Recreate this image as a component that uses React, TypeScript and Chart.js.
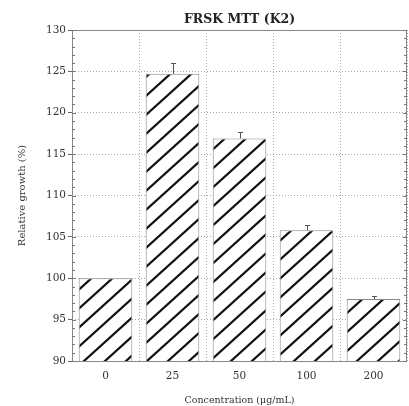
import { useEffect, useRef } from 'react';
import { Chart, registerables } from 'chart.js';

Chart.register(...registerables);

const categories = ['0', '25', '50', '100', '200'];
const values = [100, 124.7, 116.9, 105.8, 97.5];
const errors = [0, 1.3, 0.8, 0.6, 0.3];
const titleText = 'FRSK MTT (K2)';
const xTitle = 'Concentration (\u03bcg/mL)';
const yTitle = 'Relative growth (%)';
const yMin = 90;
const yMax = 130;
const yStep = 5;
const yMinorStep = 1;

const FONT = '"DejaVu Serif", serif';

function makeHatch(ctx: CanvasRenderingContext2D): CanvasPattern | string {
  const w = 21;
  const h = 19;
  const c = document.createElement('canvas');
  c.width = w;
  c.height = h;
  const p = c.getContext('2d');
  if (!p) return '#fff';
  p.fillStyle = '#ffffff';
  p.fillRect(0, 0, w, h);
  p.strokeStyle = '#111';
  p.lineWidth = 2.2;
  p.lineCap = 'square';
  for (let k = -1; k <= 1; k++) {
    p.beginPath();
    p.moveTo(-w, h + h + k * h);
    p.lineTo(2 * w, h - 2 * h + k * h);
    p.stroke();
  }
  return ctx.createPattern(c, 'repeat') || '#fff';
}

const decorPlugin = {
  id: 'decor',
  afterDatasetsDraw(chart: any) {
    const { ctx, chartArea, scales } = chart;
    const y = scales.y;
    ctx.save();
    // error bars
    const meta = chart.getDatasetMeta(0);
    ctx.strokeStyle = '#555';
    ctx.lineWidth = 1;
    meta.data.forEach((bar: any, i: number) => {
      if (!errors[i]) return;
      const cx = Math.round(bar.x);
      const y0 = y.getPixelForValue(values[i]);
      const y1 = Math.round(y.getPixelForValue(values[i] + errors[i]));
      ctx.beginPath();
      ctx.moveTo(cx + 0.5, y0);
      ctx.lineTo(cx + 0.5, y1);
      ctx.moveTo(cx - 2, y1 + 0.5);
      ctx.lineTo(cx + 3, y1 + 0.5);
      ctx.stroke();
    });
    // frame
    ctx.strokeStyle = '#888';
    ctx.lineWidth = 1;
    ctx.strokeRect(
      Math.round(chartArea.left) + 0.5,
      Math.round(chartArea.top) + 0.5,
      Math.round(chartArea.right - chartArea.left) - 1,
      Math.round(chartArea.bottom - chartArea.top)
    );
    // minor ticks
    ctx.strokeStyle = '#777';
    for (let v = yMin; v <= yMax; v += yMinorStep) {
      const py = Math.round(y.getPixelForValue(v)) + 0.5;
      const isMajor = (v - yMin) % yStep === 0;
      const len = isMajor ? 4 : 3;
      ctx.beginPath();
      ctx.moveTo(chartArea.left, py);
      ctx.lineTo(chartArea.left + len, py);
      ctx.moveTo(chartArea.right, py);
      ctx.lineTo(chartArea.right - len, py);
      ctx.stroke();
    }
    // title
    ctx.fillStyle = '#222';
    ctx.font = 'bold 12.5px ' + FONT;
    ctx.textAlign = 'center';
    ctx.textBaseline = 'middle';
    ctx.fillText(titleText, (chartArea.left + chartArea.right) / 2, 20);
    ctx.restore();
  },
};

export default function App() {
  const ref = useRef<HTMLCanvasElement | null>(null);
  useEffect(() => {
    document.body.style.margin = '0';
    const canvas = ref.current;
    if (!canvas) return;
    const ctx = canvas.getContext('2d');
    if (!ctx) return;
    const hatch = makeHatch(ctx);
    const chart = new Chart(canvas, {
      type: 'bar',
      data: {
        labels: categories,
        datasets: [
          {
            data: values,
            backgroundColor: hatch as any,
            borderColor: '#888',
            borderWidth: 1,
            barPercentage: 0.8,
            categoryPercentage: 1,
          },
        ],
      },
      options: {
        animation: false,
        responsive: false,
        devicePixelRatio: 1,
        layout: { padding: { top: 30, right: 2, left: 0, bottom: 0 } },
        plugins: {
          legend: { display: false },
          tooltip: { enabled: false },
          title: { display: false },
        },
        scales: {
          x: {
            afterFit: (s: any) => {
              s.height = 45;
            },
            grid: {
              color: '#aaa',
              lineWidth: 1,
              drawTicks: false,
              offset: true,
            },
            border: { display: false, dash: [1, 2] },
            ticks: {
              color: '#333',
              font: { family: FONT, size: 10.5 },
              padding: 9,
            },
            title: {
              display: true,
              text: xTitle,
              color: '#333',
              font: { family: FONT, size: 9.5 },
              padding: { top: 8, bottom: 0 },
            },
          },
          y: {
            min: yMin,
            max: yMax,
            afterFit: (s: any) => {
              s.width = 72;
            },
            grid: {
              color: '#aaa',
              lineWidth: 1,
              drawTicks: true,
              tickLength: 4,
              tickColor: '#666',
              tickBorderDash: [],
            } as any,
            border: { display: false, dash: [1, 2] },
            ticks: {
              stepSize: yStep,
              color: '#333',
              font: { family: FONT, size: 10.5 },
              padding: 2,
            },
            title: {
              display: true,
              text: yTitle,
              color: '#333',
              font: { family: FONT, size: 10 },
              padding: { top: 16, bottom: 0 },
            },
          },
        },
      },
      plugins: [decorPlugin],
    });
    return () => chart.destroy();
  }, []);
  return <canvas ref={ref} width={409} height={406} style={{ display: 'block' }} />;
}
